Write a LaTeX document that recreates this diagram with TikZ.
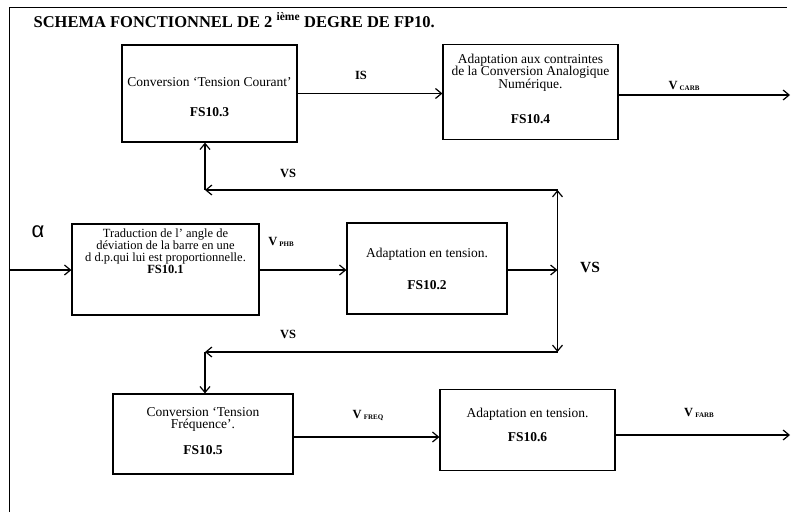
\documentclass[tikz,border=0pt]{standalone}
\usepackage{fontspec}
\setmainfont{Liberation Serif}
\newfontfamily\greekfont{Liberation Sans}
\usetikzlibrary{arrows.meta}
\newcommand\sigsub[1]{V\,\raisebox{-1pt}{\fontsize{7}{7}\selectfont #1}}

\begin{document}
\begin{tikzpicture}[x=1pt, y=-1pt, line width=1.2pt,
      >={Straight Barb[length=6pt,width=10pt]},
      block/.style = {shape=rectangle, draw, inner sep=0pt},
      txt/.style = {align=center, inner sep=0pt,
        font=\fontsize{13.5}{12.5}\selectfont},
      lbl/.style = {inner sep=0pt, font=\fontsize{12.5}{12}\selectfont\bfseries}]
  \useasboundingbox (0,0) rectangle (792,512);
  % frame and title
  \draw[line width=1pt] (9,512) -- (9,7) -- (787,7);
  \node[anchor=base west, inner sep=0pt, font=\fontsize{16.5}{17}\selectfont\bfseries]
    (title) at (33,27) {SCHEMA FONCTIONNEL DE 2 \textsuperscript{ième} DEGRE DE FP10.};
  % blocks
  \node[block, minimum width=175pt, minimum height=97pt] (fs3) at (209.5,93.5) {};
  \node[block, minimum width=175pt, minimum height=95pt] (fs4) at (530.5,92) {};
  \node[block, minimum width=187pt, minimum height=91pt] (fs1) at (165.5,269.5) {};
  \node[block, minimum width=160pt, minimum height=91pt] (fs2) at (427,268.5) {};
  \node[block, minimum width=180pt, minimum height=80pt] (fs5) at (203,434) {};
  \node[block, minimum width=175pt, minimum height=81pt] (fs6) at (527.5,430) {};
  % block texts
  \node[txt] (fs3t) at (209.5,97) {Conversion `Tension Courant'\\[18pt]\textbf{FS10.3}};
  \node[txt] (fs4t) at (530.5,89) {Adaptation aux contraintes\\de la Conversion Analogique\\Numérique.\\[23pt]\textbf{FS10.4}};
  \node[txt, font=\fontsize{12.5}{12}\selectfont] (fs1t) at (165.5,251) {Traduction de l' angle de\\déviation de la barre en une\\d d.p.qui lui est proportionnelle.\\\textbf{FS10.1}};
  \node[txt] (fs2t) at (427,269) {Adaptation en tension.\\[19pt]\textbf{FS10.2}};
  \node[txt] (fs5t) at (203,431) {Conversion `Tension\\Fréquence'.\\[13pt]\textbf{FS10.5}};
  \node[txt] (fs6t) at (527.5,425) {Adaptation en tension.\\[11pt]\textbf{FS10.6}};
  % free ends and branch points
  \coordinate (alpha in) at (9,270);
  \coordinate (vcarb) at (790,95);
  \coordinate (vfarb) at (790,435);
  \coordinate (jct) at (557.5,270);
  \coordinate (vsup) at (557.5,190);
  \coordinate (vsupl) at (205,190);
  \coordinate (vsdn) at (557.5,352);
  \coordinate (vsdnl) at (205,352);
  % connectors
  \draw[->] (alpha in) -- (alpha in -| fs1.west);
  \draw[->] (fs1.east |- alpha in) -- (fs2.west |- alpha in);
  \draw[->] (fs2.east |- jct) -- (jct);
  \draw[->] (jct) -- (vsup);
  \draw[->] (vsup) -- (vsupl);
  \draw[->] (vsupl) -- (vsupl |- fs3.south);
  \draw[->] (jct) -- (vsdn);
  \draw[->] (vsdn) -- (vsdnl);
  \draw[->] (vsdnl) -- (vsdnl |- fs5.north);
  \draw[->] (fs3.east) -- (fs3.east -| fs4.west);
  \draw[->] (fs4.east |- vcarb) -- (vcarb);
  \draw[->] (fs5.east |- 0,437) -- (fs6.west |- 0,437);
  \draw[->] (fs6.east |- vfarb) -- (vfarb);
  % signal labels
  \node[inner sep=0pt, font=\fontsize{22}{22}\greekfont] (alpha) at (38,232) {α};
  \node[lbl] (is) at (361,75) {IS};
  \node[lbl] (carb) at (684,86) {\sigsub{CARB}};
  \node[lbl] (phb) at (281,242) {\sigsub{PHB}};
  \node[lbl] (vs1) at (288,173) {VS};
  \node[lbl, font=\fontsize{15.5}{15}\selectfont\bfseries] (vs2) at (590,267) {VS};
  \node[lbl] (vs3) at (288,334) {VS};
  \node[lbl] (freq) at (368,415) {\sigsub{FREQ}};
  \node[lbl] (farb) at (699,413) {\sigsub{FARB}};
\end{tikzpicture}
\end{document}
